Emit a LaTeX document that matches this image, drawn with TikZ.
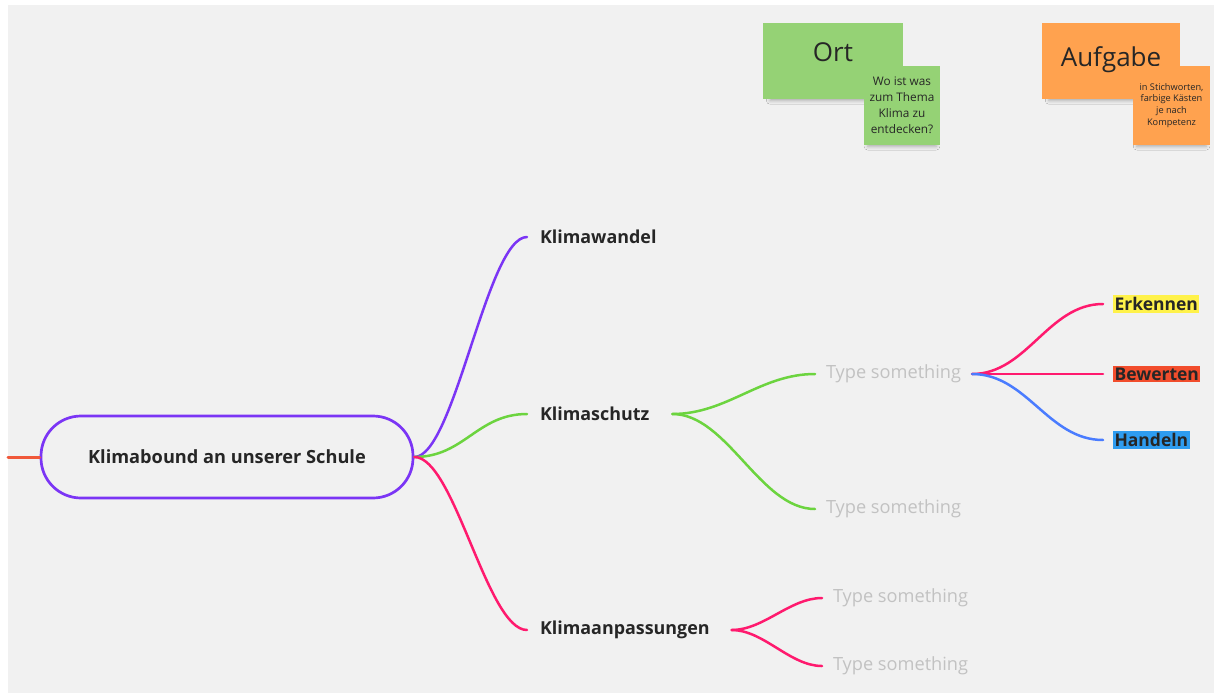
\documentclass[tikz,border=0pt]{standalone}
\usepackage{fontspec}
\setmainfont{Open Sans}
\usetikzlibrary{shadows.blur}
\definecolor{bgcol}{HTML}{F1F1F1}
\definecolor{mmpurple}{HTML}{7B35F5}
\definecolor{mmgreen}{HTML}{6CD43F}
\definecolor{mmpink}{HTML}{FF1A6E}
\definecolor{mmblue}{HTML}{4A7CFF}
\definecolor{mmred}{HTML}{F0583A}
\definecolor{txtdark}{HTML}{262626}
\definecolor{txtgray}{HTML}{C2C2C2}
\definecolor{tagyellow}{HTML}{FFF24A}
\definecolor{tagred}{HTML}{F24D2C}
\definecolor{tagblue}{HTML}{2E9CF0}
\definecolor{notegreen}{HTML}{95D275}
\definecolor{noteorange}{HTML}{FFA24F}
\tikzset{
  topic/.style={anchor=west, outer xsep=13pt, inner sep=0pt, text=txtdark,
    font=\fontsize{17.9}{21}\selectfont\bfseries},
  empty/.style={anchor=west, outer xsep=11pt, inner sep=0pt, text=txtgray,
    font=\fontsize{18.2}{21}\selectfont},
  tag/.style={anchor=west, outer xsep=10pt, inner xsep=1.5pt, inner ysep=2pt,
    text=txtdark, font=\fontsize{17.5}{21}\selectfont\bfseries},
  sticky/.style={minimum width=#1, blur shadow={shadow xshift=0pt,
    shadow yshift=-6pt, shadow scale=0.9, shadow opacity=30,
    shadow blur radius=4pt}},
  branch/.style={line width=2.5pt},
  mm/.style={to path={.. controls +(#1,0) and +(-#1,0) .. (\tikztotarget)}},
  mm/.default=45
}
\begin{document}
\begin{tikzpicture}[x=1pt, y=-1pt, line cap=round]
    \useasboundingbox (0,0) rectangle (1214,693);
    \fill[bgcol] (8,5) rectangle (1214,693);

    % root of the map
    \node[draw=mmpurple, line width=2.7pt, rounded corners=40pt, minimum width=372pt,
        minimum height=82pt, text=txtdark, font=\fontsize{18.2}{21}\selectfont\bfseries]
        (root) at (227,457) {Klimabound an unserer Schule};
    \coordinate (stub) at (8,457);
    \draw[line width=3pt, mmred] (stub) -- (root.west);

    % first level
    \node[topic] (wandel) at (527,237) {Klimawandel};
    \node[topic] (schutz) at (527,414) {Klimaschutz};
    \node[topic] (anpass) at (527,630) {Klimaanpassungen};
    \draw[branch, mmpurple] (root.east) to[mm=40] (wandel.west);
    \draw[branch, mmgreen] (root.east) to[mm=50] (schutz.west);
    \draw[branch, mmpink] (root.east) to[mm=40] (anpass.west);

    % second level
    \node[empty] (ts1) at (815,374) {Type something};
    \node[empty] (ts2) at (815,509) {Type something};
    \node[empty] (ts3) at (822,598) {Type something};
    \node[empty] (ts4) at (822,666) {Type something};
    \draw[branch, mmgreen] ([xshift=10pt]schutz.east) to[mm=55] (ts1.west);
    \draw[branch, mmgreen] ([xshift=10pt]schutz.east) to[mm=55] (ts2.west);
    \draw[branch, mmpink] ([xshift=9pt]anpass.east) to[mm=32] (ts3.west);
    \draw[branch, mmpink] ([xshift=9pt]anpass.east) to[mm=32] (ts4.west);

    % competences
    \node[tag, fill=tagyellow] (erk) at (1103,304) {Erkennen};
    \node[tag, fill=tagred] (bew) at (1103,374) {Bewerten};
    \node[tag, fill=tagblue] (han) at (1103,440) {Handeln};
    \draw[branch, mmpink] (ts1.east) to[mm=55] (erk.west);
    \draw[branch, mmpink] (ts1.east) -- (bew.west);
    \draw[branch, mmblue] (ts1.east) to[mm=55] (han.west);

    % sticky notes
    \node[sticky=140pt, minimum height=76pt, fill=notegreen] (ortbox) at (833,61) {};
    \node[text=txtdark, font=\fontsize{26}{30}\selectfont] (ort) at (833,52) {Ort};
    \node[sticky=76pt, minimum height=79pt, fill=notegreen, align=center,
        text=txtdark, font=\fontsize{11.8}{16}\selectfont]
        (ortnote) at (902,105.5) {Wo ist was\\zum Thema\\Klima zu\\entdecken?};
    \node[sticky=138pt, minimum height=76pt, fill=noteorange] (aufbox) at (1111,61) {};
    \node[text=txtdark, font=\fontsize{26}{30}\selectfont] (auf) at (1111,60) {Aufgabe};
    \node[sticky=77pt, minimum height=79pt, fill=noteorange, align=center,
        text=txtdark, font=\fontsize{9.2}{11.8}\selectfont]
        (aufnote) at (1171.5,105.5) {in Stichworten,\\farbige Kästen\\je nach\\Kompetenz};
\end{tikzpicture}
\end{document}
